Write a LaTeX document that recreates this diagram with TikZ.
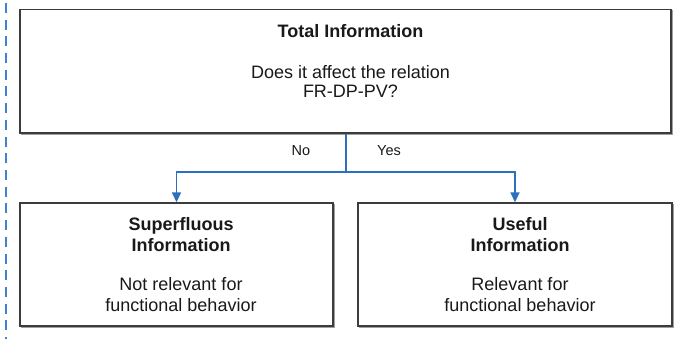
\documentclass[tikz,border=0pt]{standalone}
\usepackage{fontspec}
\setmainfont{Liberation Sans}
\usetikzlibrary{arrows.meta}
\definecolor{inktext}{RGB}{25,25,25}
\definecolor{boxline}{RGB}{60,60,60}
\definecolor{boxshade}{RGB}{160,160,160}
\definecolor{flowblue}{RGB}{45,112,188}
\definecolor{marginblue}{RGB}{60,130,205}
\tikzset{
  infobox/.style={draw=boxline, line width=1.4pt, fill=white, inner sep=0pt},
  shade/.style={draw=boxshade, line width=1.4pt},
  txt/.style={anchor=base, inner sep=0pt, text=inktext, font=\fontsize{18}{20}\selectfont},
  title/.style={txt, font=\fontsize{18}{20}\selectfont\bfseries},
  lbl/.style={anchor=base, inner sep=0pt, text=inktext, font=\fontsize{14.5}{16}\selectfont},
  conn/.style={draw=flowblue, line width=1.6pt},
  arrowed/.style={conn, -{Triangle[width=9pt,length=10pt]}},
  margin/.style={draw=marginblue, line width=2pt, dash pattern=on 10pt off 6.7pt}
}
\begin{document}
\begin{tikzpicture}[x=1pt, y=-1pt]
\useasboundingbox (0,0) rectangle (676,339);

% dashed margin rule on the left
\coordinate (mtop) at (5.5,3);
\coordinate (mbot) at (5.5,339);
\draw[margin] (mtop) -- (mbot);

% light shadows behind the boxes
\draw[shade] (21.5,11) rectangle (672.5,134.5);
\draw[shade] (21.5,204.5) rectangle (334.5,327.5);
\draw[shade] (359.5,204.5) rectangle (673.5,327.5);

% boxes
\node[infobox, minimum width=651pt, minimum height=123.5pt] (total) at (345.5,71.25) {};
\node[infobox, minimum width=313pt, minimum height=123pt] (superfluous) at (176.5,264.5) {};
\node[infobox, minimum width=314pt, minimum height=123pt] (useful) at (515,264.5) {};

% top box text
\node[title] (t1) at (350.5,38) {Total Information};
\node[txt] (t2) at (350.5,79) {Does it affect the relation};
\node[txt] (t3) at (350.5,97.5) {FR-DP-PV?};

% left box text
\node[title] (s1) at (181,230) {Superfluous};
\node[title] (s2) at (181,251) {Information};
\node[txt] (s3) at (181,290) {Not relevant for};
\node[txt] (s4) at (181,311) {functional behavior};

% right box text
\node[title] (u1) at (520,230) {Useful};
\node[title] (u2) at (520,251) {Information};
\node[txt] (u3) at (520,290) {Relevant for};
\node[txt] (u4) at (520,311) {functional behavior};

% decision branches
\coordinate (split) at (346,172);
\draw[conn] (total.south -| split) -- (split);
\draw[arrowed] (split) -| (superfluous.north);
\draw[arrowed] (split) -| (useful.north);

\node[lbl] (no) at (301,155.5) {No};
\node[lbl] (yes) at (389,155.5) {Yes};
\end{tikzpicture}
\end{document}
